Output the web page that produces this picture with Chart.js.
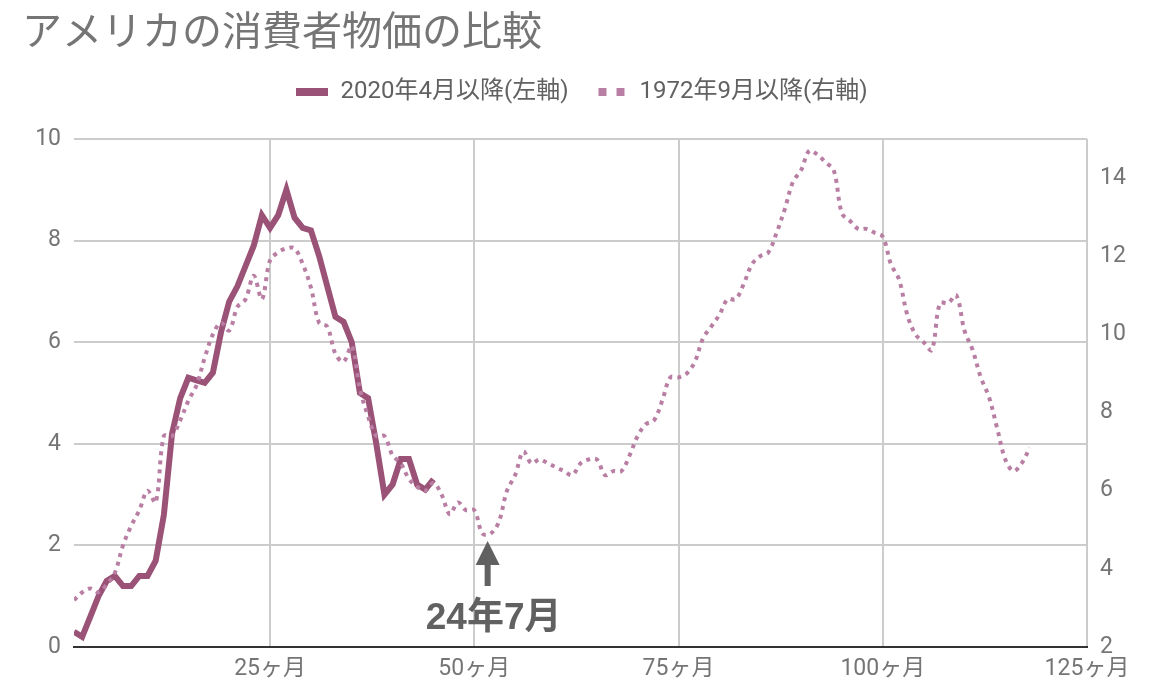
<!DOCTYPE html>
<html>
<head>
<meta charset="utf-8">
<script src="https://cdn.jsdelivr.net/npm/chart.js@4.4.1/dist/chart.umd.min.js"></script>
<style>
  body { margin: 0; background: #fff; }
  #wrap { width: 1160px; height: 696px; }
</style>
</head>
<body>
<div id="wrap"><canvas id="myChart"></canvas></div>
<script>
// CPI YoY (%), month 1 = 2020/04 (left axis)
const recentCpi = [
  0.3, 0.2, 0.6, 1.0, 1.3, 1.4, 1.2, 1.2, 1.4, 1.4, 1.7, 2.6,
  4.2, 4.9, 5.3, 5.25, 5.2, 5.4, 6.2, 6.8, 7.1, 7.5, 7.9, 8.5,
  8.25, 8.5, 9.0, 8.45, 8.25, 8.2, 7.7, 7.1, 6.5, 6.4, 6.0, 5.0,
  4.9, 4.0, 3.0, 3.2, 3.7, 3.7, 3.2, 3.1, 3.3
];
// CPI YoY (%), month 1 = 1972/09 (right axis)
const pastCpi = [
  3.2, 3.4, 3.5, 3.4,
  3.6, 3.9, 4.6, 5.1, 5.5, 6.0, 5.7, 7.4, 7.4, 7.8, 8.3, 8.7,
  9.4, 10.0, 10.3, 10.1, 10.7, 10.9, 11.5, 10.9, 11.9, 12.1, 12.2, 12.2,
  11.8, 11.2, 10.3, 10.2, 9.5, 9.3, 9.7, 8.6, 7.9, 7.4, 7.4, 6.9,
  6.7, 6.3, 6.1, 6.0, 6.2, 5.9, 5.4, 5.7, 5.5, 5.5, 4.9, 4.9,
  5.2, 6.0, 6.4, 7.0, 6.7, 6.8, 6.7, 6.6, 6.5, 6.4, 6.7, 6.8,
  6.8, 6.4, 6.5, 6.5, 6.9, 7.4, 7.7, 7.8, 8.3, 8.9, 8.9, 9.0,
  9.3, 9.9, 10.2, 10.5, 10.9, 10.9, 11.3, 11.8, 12.0, 12.1, 12.6, 13.2,
  13.9, 14.2, 14.7, 14.6, 14.4, 14.2, 13.1, 12.9, 12.7, 12.7, 12.6, 12.5,
  11.8, 11.4, 10.5, 10.0, 9.8, 9.6, 10.8, 10.8, 11.0, 10.1, 9.6, 8.9,
  8.4, 7.6, 6.8, 6.5, 6.7, 7.1
];
const seriesNames = ['2020年4月以降(左軸)', '1972年9月以降(右軸)'];
const xTicks = [25, 50, 75, 100, 125];
const leftTicks = [0, 2, 4, 6, 8, 10];
const rightTicks = [2, 4, 6, 8, 10, 12, 14];
const markMonth = 52;
const markLabel = '24年7月';

const solidColor = '#9b5277';
const dotColor = '#b97ea3';
const textColor = '#757575';
const fontFamily = "Roboto, 'Noto Sans CJK JP', sans-serif";

// legend swatches
function swatch(draw) {
  const c = document.createElement('canvas');
  c.width = 32; c.height = 8;
  draw(c.getContext('2d'));
  return c;
}
const solidSwatch = swatch(g => { g.fillStyle = solidColor; g.fillRect(0, 0, 32, 8); });
const dotSwatch = swatch(g => { g.fillStyle = dotColor; g.fillRect(3, 0, 8, 8); g.fillRect(21, 0, 8, 8); });

const toPoints = (arr) => arr.map((v, i) => ({x: i + 1, y: v}));

const markPlugin = {
  id: 'mark',
  afterDatasetsDraw(chart) {
    const {ctx, chartArea} = chart;
    const x = chart.scales.x.getPixelForValue(markMonth) - 3;
    const b = chartArea.bottom;
    ctx.save();
    ctx.fillStyle = '#616161';
    ctx.beginPath();
    ctx.moveTo(x, b - 106);
    ctx.lineTo(x + 12, b - 82);
    ctx.lineTo(x - 12, b - 82);
    ctx.closePath();
    ctx.fill();
    ctx.fillRect(x - 3, b - 84, 6, 23);
    ctx.font = "bold 37px 'Liberation Sans', 'Noto Sans CJK JP', sans-serif";
    ctx.textAlign = 'center';
    ctx.textBaseline = 'middle';
    ctx.fillText(markLabel, x + 6, b - 28);
    ctx.restore();
  }
};

const ctx = document.getElementById('myChart');

const myChart = new Chart(ctx, {
  type: 'line',
  data: {
    datasets: [{
      label: seriesNames[0],
      data: toPoints(recentCpi),
      yAxisID: 'y',
      borderColor: solidColor,
      borderWidth: 6,
      pointRadius: 0,
      tension: 0,
      order: 1
    },
    {
      label: seriesNames[1],
      data: toPoints(pastCpi),
      yAxisID: 'y2',
      borderColor: dotColor,
      borderWidth: 4,
      borderDash: [4, 5],
      pointRadius: 0,
      tension: 0.35,
      order: 0
    }]
  },
  options: {
    animation: false,
    events: [],
    responsive: true,
    maintainAspectRatio: false,
    layout: { padding: { left: 22, right: 18, top: 0, bottom: 0 } },
    plugins: {
      title: {
        display: true,
        text: 'アメリカの消費者物価の比較',
        align: 'start',
        color: textColor,
        font: { family: fontFamily, size: 40, weight: 'normal', lineHeight: 0.9 },
        padding: { top: 17, bottom: 0 }
      },
      subtitle: {
        display: true,
        text: '',
        weight: 500,
        font: { size: 1, lineHeight: 1 },
        padding: { top: 0, bottom: 24 }
      },
      legend: {
        position: 'top',
        labels: {
          usePointStyle: true,
          pointStyleWidth: 32,
          padding: 27,
          color: '#616161',
          font: { family: fontFamily, size: 24 },
          generateLabels: () => [
            { text: seriesNames[0], pointStyle: solidSwatch, fontColor: '#616161', lineWidth: 0, hidden: false, datasetIndex: 0 },
            { text: seriesNames[1], pointStyle: dotSwatch, fontColor: '#616161', lineWidth: 0, hidden: false, datasetIndex: 1 }
          ]
        }
      },
      tooltip: { enabled: false }
    },
    scales: {
      x: {
        type: 'linear',
        min: 1,
        max: 125,
        afterBuildTicks: (s) => { s.ticks = xTicks.map(v => ({value: v})); },
        afterFit: (s) => { s.height = 49; },
        ticks: {
          color: textColor,
          font: { family: fontFamily, size: 23 },
          padding: 8,
          maxRotation: 0,
          callback: (v) => v + 'ヶ月'
        },
        grid: { color: '#cccccc', lineWidth: 2, drawTicks: false },
        border: { display: true, color: '#333333', width: 2 }
      },
      y: {
        position: 'left',
        min: 0,
        max: 10,
        afterBuildTicks: (s) => { s.ticks = leftTicks.map(v => ({value: v})); },
        afterFit: (s) => { s.width = 52; },
        ticks: {
          color: textColor,
          font: { family: fontFamily, size: 23 },
          padding: 13
        },
        grid: {
          color: (c) => c.tick && c.tick.value === 0 ? '#333333' : '#cccccc',
          lineWidth: 2,
          drawTicks: false
        },
        border: { display: false }
      },
      y2: {
        position: 'right',
        min: 2,
        max: 15,
        afterBuildTicks: (s) => { s.ticks = rightTicks.map(v => ({value: v})); },
        afterFit: (s) => { s.width = 55; },
        ticks: {
          color: textColor,
          font: { family: fontFamily, size: 23 },
          padding: 13
        },
        grid: { display: false, drawTicks: false },
        border: { display: false }
      }
    }
  },
  plugins: [markPlugin]
});
</script>
</body>
</html>
